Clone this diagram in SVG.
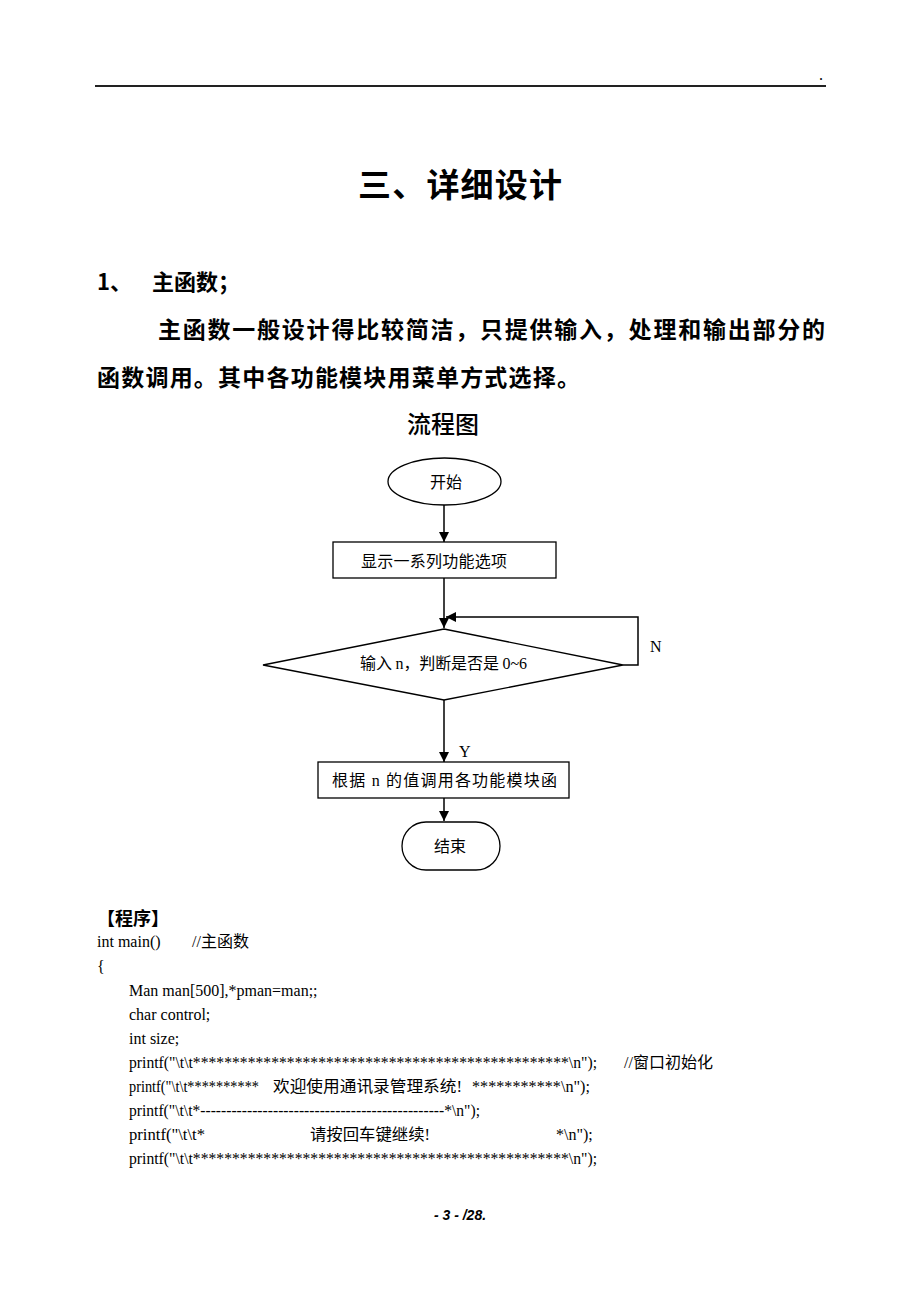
<svg xmlns="http://www.w3.org/2000/svg" width="920" height="1302" viewBox="0 0 920 1302">
<defs>
<style>
.hd{font-family:"Noto Sans CJK SC","Noto Sans",sans-serif;font-weight:bold;fill:#000}
.fc{font-family:"Liberation Serif","Noto Sans CJK SC",serif;font-size:16px;fill:#000}
.code{font-family:"Liberation Serif","Noto Sans CJK SC",serif;font-size:16px;fill:#000}
.shape{fill:#fff;stroke:#000;stroke-width:1.3}
.conn{fill:none;stroke:#000;stroke-width:1.5}
</style>
<marker id="arr" markerUnits="userSpaceOnUse" markerWidth="12" markerHeight="12" refX="10" refY="5" orient="auto">
<path d="M0,0 L10,5 L0,10 z" fill="#000"/>
</marker>
</defs>
<rect width="920" height="1302" fill="#fff"/>
<line x1="95" y1="86" x2="826" y2="86" stroke="#222" stroke-width="2"/>
<text x="819" y="80" class="code" font-size="8px">.</text>
<text x="358" y="197" class="hd" font-size="33px" textLength="204" lengthAdjust="spacing">三、详细设计</text>
<text x="97" y="290" class="hd" font-size="22px">1、</text>
<text x="152" y="290" class="hd" font-size="22px">主函数；</text>
<text x="158" y="338" class="hd" font-size="23px" textLength="667" lengthAdjust="spacing">主函数一般设计得比较简洁，只提供输入，处理和输出部分的</text>
<text x="97" y="386" class="hd" font-size="23px" textLength="483" lengthAdjust="spacing">函数调用。其中各功能模块用菜单方式选择。</text>
<text x="443" y="433" class="hd" font-size="24px" text-anchor="middle" style="font-weight:500">流程图</text>
<g id="connectors">
<path class="conn" d="M444,505 V542" marker-end="url(#arr)"/>
<path class="conn" d="M444,578 V628" marker-end="url(#arr)"/>
<path class="conn" d="M623,665 H638 V617 H446" marker-end="url(#arr)"/>
<path class="conn" d="M444,700 V762" marker-end="url(#arr)"/>
<path class="conn" d="M444,798 V821" marker-end="url(#arr)"/>
<text x="650" y="652" class="fc">N</text>
<text x="459" y="757" class="fc">Y</text>
</g>
<g id="start">
<ellipse class="shape" cx="444.5" cy="481.5" rx="56.5" ry="23.5"/>
<text x="446" y="488" class="fc" font-size="17px" text-anchor="middle">开始</text>
</g>
<g id="menu">
<rect class="shape" x="333" y="542" width="223" height="36"/>
<text x="361" y="567" class="fc" textLength="146">显示一系列功能选项</text>
</g>
<g id="decision">
<polygon class="shape" points="444,629 623,665 444,700 263,665"/>
<text x="360" y="669" class="fc" textLength="167">输入 n，判断是否是 0~6</text>
</g>
<g id="dispatch">
<rect class="shape" x="318" y="762" width="251" height="36"/>
<text x="332" y="786" class="fc" textLength="225">根据 n 的值调用各功能模块函</text>
</g>
<g id="end">
<rect class="shape" x="402" y="822" width="98" height="48" rx="24" ry="24"/>
<text x="450" y="852" class="fc" font-size="17px" text-anchor="middle">结束</text>
</g>
<g id="code">
<text x="97" y="925" class="hd" font-size="18px">【程序】</text>
<text x="97" y="947" class="code">int main()</text>
<text x="192" y="947" class="code">//主函数</text>
<text x="97" y="972" class="code">{</text>
<text x="129" y="996" class="code">Man man[500],*pman=man;;</text>
<text x="129" y="1020" class="code">char control;</text>
<text x="129" y="1044" class="code">int size;</text>
<text x="129" y="1068" class="code" textLength="468" lengthAdjust="spacingAndGlyphs">printf("\t\t************************************************\n");</text>
<text x="624" y="1068" class="code">//窗口初始化</text>
<text x="129" y="1092" class="code" textLength="130" lengthAdjust="spacingAndGlyphs">printf("\t\t**********</text>
<text x="273" y="1092" class="code" textLength="189" lengthAdjust="spacingAndGlyphs">欢迎使用通讯录管理系统!</text>
<text x="472" y="1092" class="code" textLength="118" lengthAdjust="spacingAndGlyphs">***********\n");</text>
<text x="129" y="1116" class="code" textLength="351" lengthAdjust="spacingAndGlyphs">printf("\t\t*-----------------------------------------------*\n");</text>
<text x="129" y="1140" class="code" textLength="76" lengthAdjust="spacingAndGlyphs">printf("\t\t*</text>
<text x="310" y="1140" class="code" textLength="120" lengthAdjust="spacingAndGlyphs">请按回车键继续!</text>
<text x="556" y="1140" class="code">*\n");</text>
<text x="129" y="1164" class="code" textLength="468" lengthAdjust="spacingAndGlyphs">printf("\t\t************************************************\n");</text>
</g>
<text x="460" y="1220" font-family="Liberation Sans, sans-serif" font-size="14px" font-style="italic" font-weight="bold" text-anchor="middle" fill="#000">- 3 -  /28.</text>
</svg>
